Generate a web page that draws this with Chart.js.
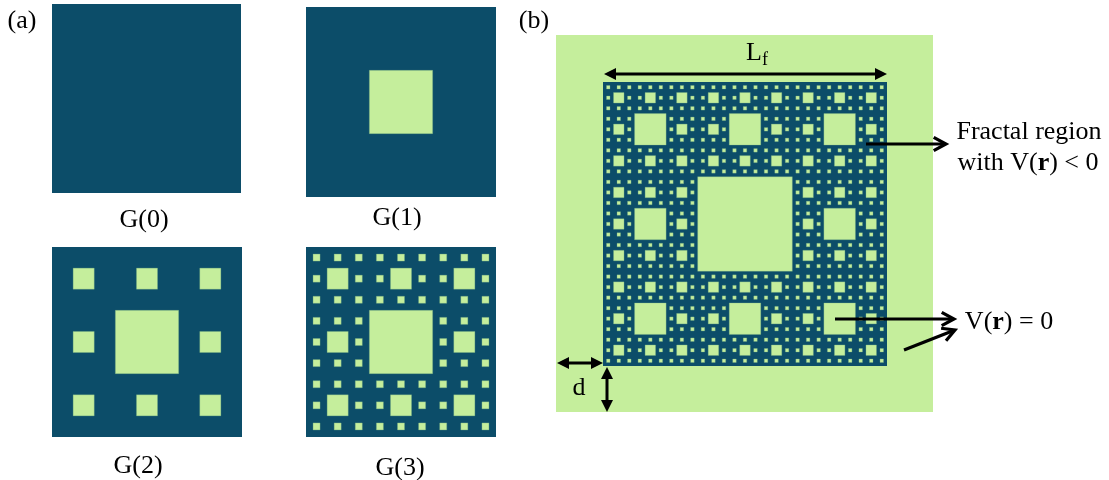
<!DOCTYPE html>
<html>
<head>
<meta charset="utf-8">
<script src="https://cdn.jsdelivr.net/npm/chart.js@4.4.1/dist/chart.umd.min.js"></script>
<style>
html, body { margin: 0; padding: 0; background: #fff; }
#wrap { width: 1109px; height: 480px; }
</style>
</head>
<body>
<div id="wrap"><canvas id="fig" width="1109" height="480"></canvas></div>
<script>
// carpet generations shown in panel (a) and the one used in panel (b)
const levels = [0, 1, 2, 3];
const levelLabels = ["G(0)", "G(1)", "G(2)", "G(3)"];
const fractalLevel = 4;
const panelLabels = ["(a)", "(b)"];
// text runs, [text, bold]
const regionLine1 = [["Fractal region", false]];
const regionLine2 = [["with V(", false], ["r", true], [") < 0", false]];
const zeroLine = [["V(", false], ["r", true], [") = 0", false]];
const sizeLabel = ["L", "f"];
const gapLabel = "d";

// layout (page coordinates, y grows downwards)
const tiles = [
    { x: 52, y: 4, s: 189 },
    { x: 306, y: 7, s: 190 },
    { x: 52, y: 247, s: 190 },
    { x: 306, y: 247, s: 190 }
];
const tileLabelPos = [[144, 227], [397, 225], [138, 473], [400, 475]];
const panelLabelPos = [[22, 28], [534, 28]];
const bgBox = { x: 556, y: 35, s: 377 };
const fractalBox = { x: 603, y: 82, s: 284 };

const DARK = "#0c4d69";
const LIGHT = "#c5ee9c";
const FONT = '"Liberation Serif", "Times New Roman", serif';

function square(b) {
    return { x: b.x + b.s / 2, y: b.y + b.s / 2, s: b.s };
}

// holes of a Sierpinski carpet of generation n inside box (x0, y0, s)
function holes(x0, y0, s, n, out) {
    if (n <= 0) return out;
    const t = s / 3;
    out.push({ x: x0 + t * 1.5, y: y0 + t * 1.5, s: t });
    for (let i = 0; i < 3; i++) {
        for (let j = 0; j < 3; j++) {
            if (i === 1 && j === 1) continue;
            holes(x0 + i * t, y0 + j * t, t, n - 1, out);
        }
    }
    return out;
}

let holePts = [];
levels.forEach((lv, i) => {
    const b = tiles[i];
    holes(b.x, b.y, b.s, lv, holePts);
});
holes(fractalBox.x, fractalBox.y, fractalBox.s, fractalLevel, holePts);

const darkPts = tiles.map(square).concat([square(fractalBox)]);
const bgPts = [square(bgBox)];

// side length in data units -> point radius so the 'rect' style has that side
function sideRadius(ctx) {
    const sc = ctx.chart.scales.x;
    const side = sc.getPixelForValue(ctx.raw.s) - sc.getPixelForValue(0);
    return side / Math.SQRT2;
}

function rectSet(data, fill, order, border) {
    return {
        data: data,
        order: order,
        pointStyle: "rect",
        pointRadius: sideRadius,
        pointHoverRadius: sideRadius,
        pointBackgroundColor: fill,
        pointBorderColor: border ? border.color : fill,
        pointBorderWidth: border ? border.width : 0
    };
}

function drawRuns(c, runs, cx, y, size) {
    let total = 0;
    runs.forEach(r => {
        c.font = (r[1] ? "bold " : "") + size + "px " + FONT;
        total += c.measureText(r[0]).width;
    });
    let x = cx - total / 2;
    c.textAlign = "left";
    runs.forEach(r => {
        c.font = (r[1] ? "bold " : "") + size + "px " + FONT;
        c.fillText(r[0], x, y);
        x += c.measureText(r[0]).width;
    });
}

function filledHead(c, x, y, ang) {
    const len = 12, half = 6;
    c.beginPath();
    c.moveTo(x, y);
    c.lineTo(x - len * Math.cos(ang) + half * Math.sin(ang), y - len * Math.sin(ang) - half * Math.cos(ang));
    c.lineTo(x - len * Math.cos(ang) - half * Math.sin(ang), y - len * Math.sin(ang) + half * Math.cos(ang));
    c.closePath();
    c.fill();
}

function doubleArrow(chart, x1, y1, x2, y2) {
    const c = chart.ctx;
    const sx = chart.scales.x, sy = chart.scales.y;
    const a = [sx.getPixelForValue(x1), sy.getPixelForValue(y1)];
    const b = [sx.getPixelForValue(x2), sy.getPixelForValue(y2)];
    const ang = Math.atan2(b[1] - a[1], b[0] - a[0]);
    c.lineWidth = 3;
    c.beginPath();
    c.moveTo(a[0] + 8 * Math.cos(ang), a[1] + 8 * Math.sin(ang));
    c.lineTo(b[0] - 8 * Math.cos(ang), b[1] - 8 * Math.sin(ang));
    c.stroke();
    filledHead(c, b[0], b[1], ang);
    filledHead(c, a[0], a[1], ang + Math.PI);
}

function openArrow(chart, x1, y1, x2, y2) {
    const c = chart.ctx;
    const sx = chart.scales.x, sy = chart.scales.y;
    const a = [sx.getPixelForValue(x1), sy.getPixelForValue(y1)];
    const b = [sx.getPixelForValue(x2), sy.getPixelForValue(y2)];
    const ang = Math.atan2(b[1] - a[1], b[0] - a[0]);
    const len = 14, spread = 0.5;
    c.lineWidth = 3.2;
    c.lineCap = "butt";
    c.lineJoin = "miter";
    c.beginPath();
    c.moveTo(a[0], a[1]);
    c.lineTo(b[0] - 1.5 * Math.cos(ang), b[1] - 1.5 * Math.sin(ang));
    c.stroke();
    c.beginPath();
    c.moveTo(b[0] - len * Math.cos(ang - spread), b[1] - len * Math.sin(ang - spread));
    c.lineTo(b[0], b[1]);
    c.lineTo(b[0] - len * Math.cos(ang + spread), b[1] - len * Math.sin(ang + spread));
    c.stroke();
}

const annotations = {
    id: "annotations",
    afterDatasetsDraw(chart) {
        const c = chart.ctx;
        const sx = chart.scales.x, sy = chart.scales.y;
        c.save();
        c.fillStyle = "#000";
        c.strokeStyle = "#000";
        c.textBaseline = "alphabetic";

        levelLabels.forEach((t, i) => {
            const p = tileLabelPos[i];
            drawRuns(c, [[t, false]], sx.getPixelForValue(p[0]), sy.getPixelForValue(p[1]), 26);
        });
        panelLabels.forEach((t, i) => {
            const p = panelLabelPos[i];
            drawRuns(c, [[t, false]], sx.getPixelForValue(p[0]), sy.getPixelForValue(p[1]), 26);
        });

        // L_f with subscript
        c.textAlign = "left";
        c.font = "26px " + FONT;
        c.fillText(sizeLabel[0], sx.getPixelForValue(746), sy.getPixelForValue(60));
        c.font = "18px " + FONT;
        c.fillText(sizeLabel[1], sx.getPixelForValue(762), sy.getPixelForValue(65));

        drawRuns(c, [[gapLabel, false]], sx.getPixelForValue(579), sy.getPixelForValue(395), 26);
        drawRuns(c, regionLine1, sx.getPixelForValue(1029), sy.getPixelForValue(139), 26);
        drawRuns(c, regionLine2, sx.getPixelForValue(1028), sy.getPixelForValue(170), 26);
        drawRuns(c, zeroLine, sx.getPixelForValue(1009), sy.getPixelForValue(329), 26);

        doubleArrow(chart, 604, 74, 887, 74);
        doubleArrow(chart, 557, 363, 603, 363);
        doubleArrow(chart, 607, 367, 607, 412);
        openArrow(chart, 866, 144, 946, 144);
        openArrow(chart, 835, 319, 954, 319);
        openArrow(chart, 904, 350, 955, 330);
        c.restore();
    }
};

new Chart(document.getElementById("fig"), {
    type: "scatter",
    data: {
        datasets: [
            rectSet(holePts, LIGHT, 0, { color: "rgba(110,170,130,0.55)", width: 0.6 }),
            rectSet(darkPts, DARK, 1, null),
            rectSet(bgPts, LIGHT, 2, null)
        ]
    },
    options: {
        responsive: false,
        animation: false,
        events: [],
        devicePixelRatio: 1,
        layout: { padding: 0 },
        scales: {
            x: { type: "linear", min: 0, max: 1109, display: false },
            y: { type: "linear", min: 0, max: 480, reverse: true, display: false }
        },
        plugins: {
            legend: { display: false },
            tooltip: { enabled: false }
        }
    },
    plugins: [annotations]
});
</script>
</body>
</html>
